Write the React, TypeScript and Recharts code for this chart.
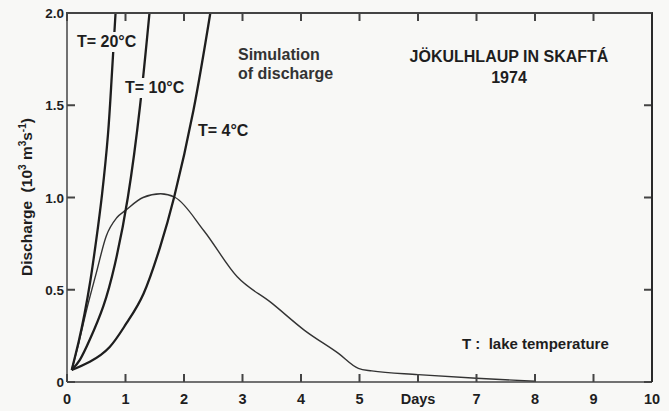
import { LineChart, Line, XAxis, YAxis } from "recharts"

const W = 669
const H = 411
const INK = "#1e1e1e"
const FRAME = "#444"
const BG = "#f8f8f6"
const FONT = "'Liberation Sans', Arial, Helvetica, sans-serif"

// plot box (set by the margins / axis sizes below)
const PLOT = { left: 67, top: 13, width: 585, height: 369 }

// axes
const dayTicks = [0, 1, 2, 3, 4, 5, 6, 7, 8, 9, 10]
const dayLabels = ["0", "1", "2", "3", "4", "5", "Days", "7", "8", "9", "10"]
const dischargeTicks = [0, 0.5, 1, 1.5, 2]
const dischargeLabels = ["0", "0.5", "1.0", "1.5", "2.0"]

// observed hydrograph (10^3 m3/s)
const observedDays = [0.08, 0.2, 0.35, 0.5, 0.67, 0.85, 1.0, 1.3, 1.6, 1.85, 2.34, 2.91, 3.49, 4.06, 4.64, 4.98, 5.21, 6.0, 7.0, 8.0]
const observedQ = [0.065, 0.21, 0.41, 0.59, 0.79, 0.89, 0.93, 1.0, 1.02, 1.0, 0.82, 0.57, 0.43, 0.28, 0.155, 0.074, 0.06, 0.04, 0.02, 0.004]

// simulations
const t20Days = [0.08, 0.2, 0.3, 0.4, 0.5, 0.6, 0.7, 0.76, 0.83]
const t20Q = [0.065, 0.22, 0.37, 0.55, 0.77, 1.02, 1.34, 1.63, 2.0]
const t10Days = [0.08, 0.22, 0.39, 0.62, 0.82, 1.04, 1.25, 1.41]
const t10Q = [0.065, 0.12, 0.23, 0.41, 0.64, 1.0, 1.5, 2.0]
const t4Days = [0.08, 0.39, 0.73, 1.02, 1.31, 1.59, 1.83, 2.16, 2.45]
const t4Q = [0.065, 0.11, 0.19, 0.32, 0.48, 0.73, 1.0, 1.47, 2.0]

const toRows = (days: number[], q: number[]) => days.map((d, i) => ({ day: d, q: q[i] }))

// inward tick marks on both opposite sides of the box, label outside
function BottomTick(p: any) {
  return (
    <g>
      <rect x={p.x - 1} y={p.y - 8} width={2} height={8} fill={FRAME} />
      <rect x={p.x - 1} y={p.y - PLOT.height} width={2} height={8} fill={FRAME} />
      <text x={p.x} y={p.y + 22} textAnchor="middle" fontSize={14.5} fontWeight="bold" fill={INK} fontFamily={FONT}>
        {dayLabels[dayTicks.indexOf(p.payload.value)]}
      </text>
    </g>
  )
}

function LeftTick(p: any) {
  return (
    <g>
      <rect x={p.x} y={p.y - 1} width={8} height={2} fill={FRAME} />
      <rect x={p.x + PLOT.width - 8} y={p.y - 1} width={8} height={2} fill={FRAME} />
      <text x={p.x - 3} y={p.y + 5} textAnchor="end" fontSize={13.5} fontWeight="bold" fill={INK} fontFamily={FONT}>
        {dischargeLabels[dischargeTicks.indexOf(p.payload.value)]}
      </text>
    </g>
  )
}

function Note({ x, y, size = 16, color = INK, align = "left", knockout = false, children }: any) {
  return (
    <div
      style={{
        position: "absolute",
        zIndex: 2,
        left: x,
        top: y,
        transform: align === "center" ? "translate(-50%, -50%)" : "translateY(-50%)",
        fontSize: size,
        lineHeight: 1,
        fontWeight: "bold",
        whiteSpace: "pre",
        padding: knockout ? "2px 1px" : 0,
        background: knockout ? BG : "transparent",
        color,
      }}
    >
      {children}
    </div>
  )
}

export default function App() {
  return (
    <div style={{ position: "absolute", left: 0, top: 0, width: W, height: H, background: BG, fontFamily: FONT, color: INK }}>
      <LineChart width={W} height={H} margin={{ top: PLOT.top, right: W - PLOT.left - PLOT.width, bottom: 0, left: 0 }}>
        <XAxis dataKey="day" type="number" domain={[0, 10]} ticks={dayTicks} interval={0} height={H - PLOT.top - PLOT.height}
          tickSize={0} tickMargin={0} tickLine={false} axisLine={{ stroke: FRAME, strokeWidth: 1.5 }} tick={BottomTick} />
        <YAxis type="number" domain={[0, 2]} ticks={dischargeTicks} interval={0} width={PLOT.left}
          tickSize={0} tickMargin={0} tickLine={false} axisLine={{ stroke: FRAME, strokeWidth: 1.5 }} tick={LeftTick} />
        <Line data={toRows(observedDays, observedQ)} dataKey="q" type="monotone" stroke="#333" strokeWidth={1.4} dot={false} isAnimationActive={false} />
        <Line data={toRows(t20Days, t20Q)} dataKey="q" type="natural" stroke={INK} strokeWidth={2.3} dot={false} isAnimationActive={false} />
        <Line data={toRows(t10Days, t10Q)} dataKey="q" type="natural" stroke={INK} strokeWidth={2.3} dot={false} isAnimationActive={false} />
        <Line data={toRows(t4Days, t4Q)} dataKey="q" type="natural" stroke={INK} strokeWidth={2.3} dot={false} isAnimationActive={false} />
      </LineChart>

      {/* top and right edges of the frame */}
      <div
        style={{
          position: "absolute",
          boxSizing: "border-box",
          left: PLOT.left - 1,
          top: PLOT.top - 1,
          width: PLOT.width + 2,
          height: PLOT.height + 1,
          borderTop: `2px solid ${FRAME}`,
          borderRight: "2px solid #2a2a2a",
          pointerEvents: "none",
        }}
      />

      <div
        style={{
          position: "absolute",
          left: 26,
          top: 197,
          transform: "translate(-50%, -50%) rotate(-90deg)",
          fontSize: 15.5,
          fontWeight: "bold",
          whiteSpace: "pre",
          lineHeight: 1,
        }}
      >
        Discharge  (10<sup style={{ fontSize: 10 }}>3</sup> m<sup style={{ fontSize: 10 }}>3</sup>s<sup style={{ fontSize: 10 }}>-1</sup>)
      </div>

      <Note x={76} y={42} knockout>T= 20°C</Note>
      <Note x={124} y={88} knockout>T= 10°C</Note>
      <Note x={198} y={131}>T= 4°C</Note>
      <Note x={238} y={55} color="#333">Simulation</Note>
      <Note x={238} y={74} color="#333">of discharge</Note>
      <Note x={509} y={57} align="center">JÖKULHLAUP IN SKAFTÁ</Note>
      <Note x={509} y={78} align="center">1974</Note>
      <Note x={462} y={343} size={15}>{"T :  lake temperature"}</Note>
    </div>
  )
}
